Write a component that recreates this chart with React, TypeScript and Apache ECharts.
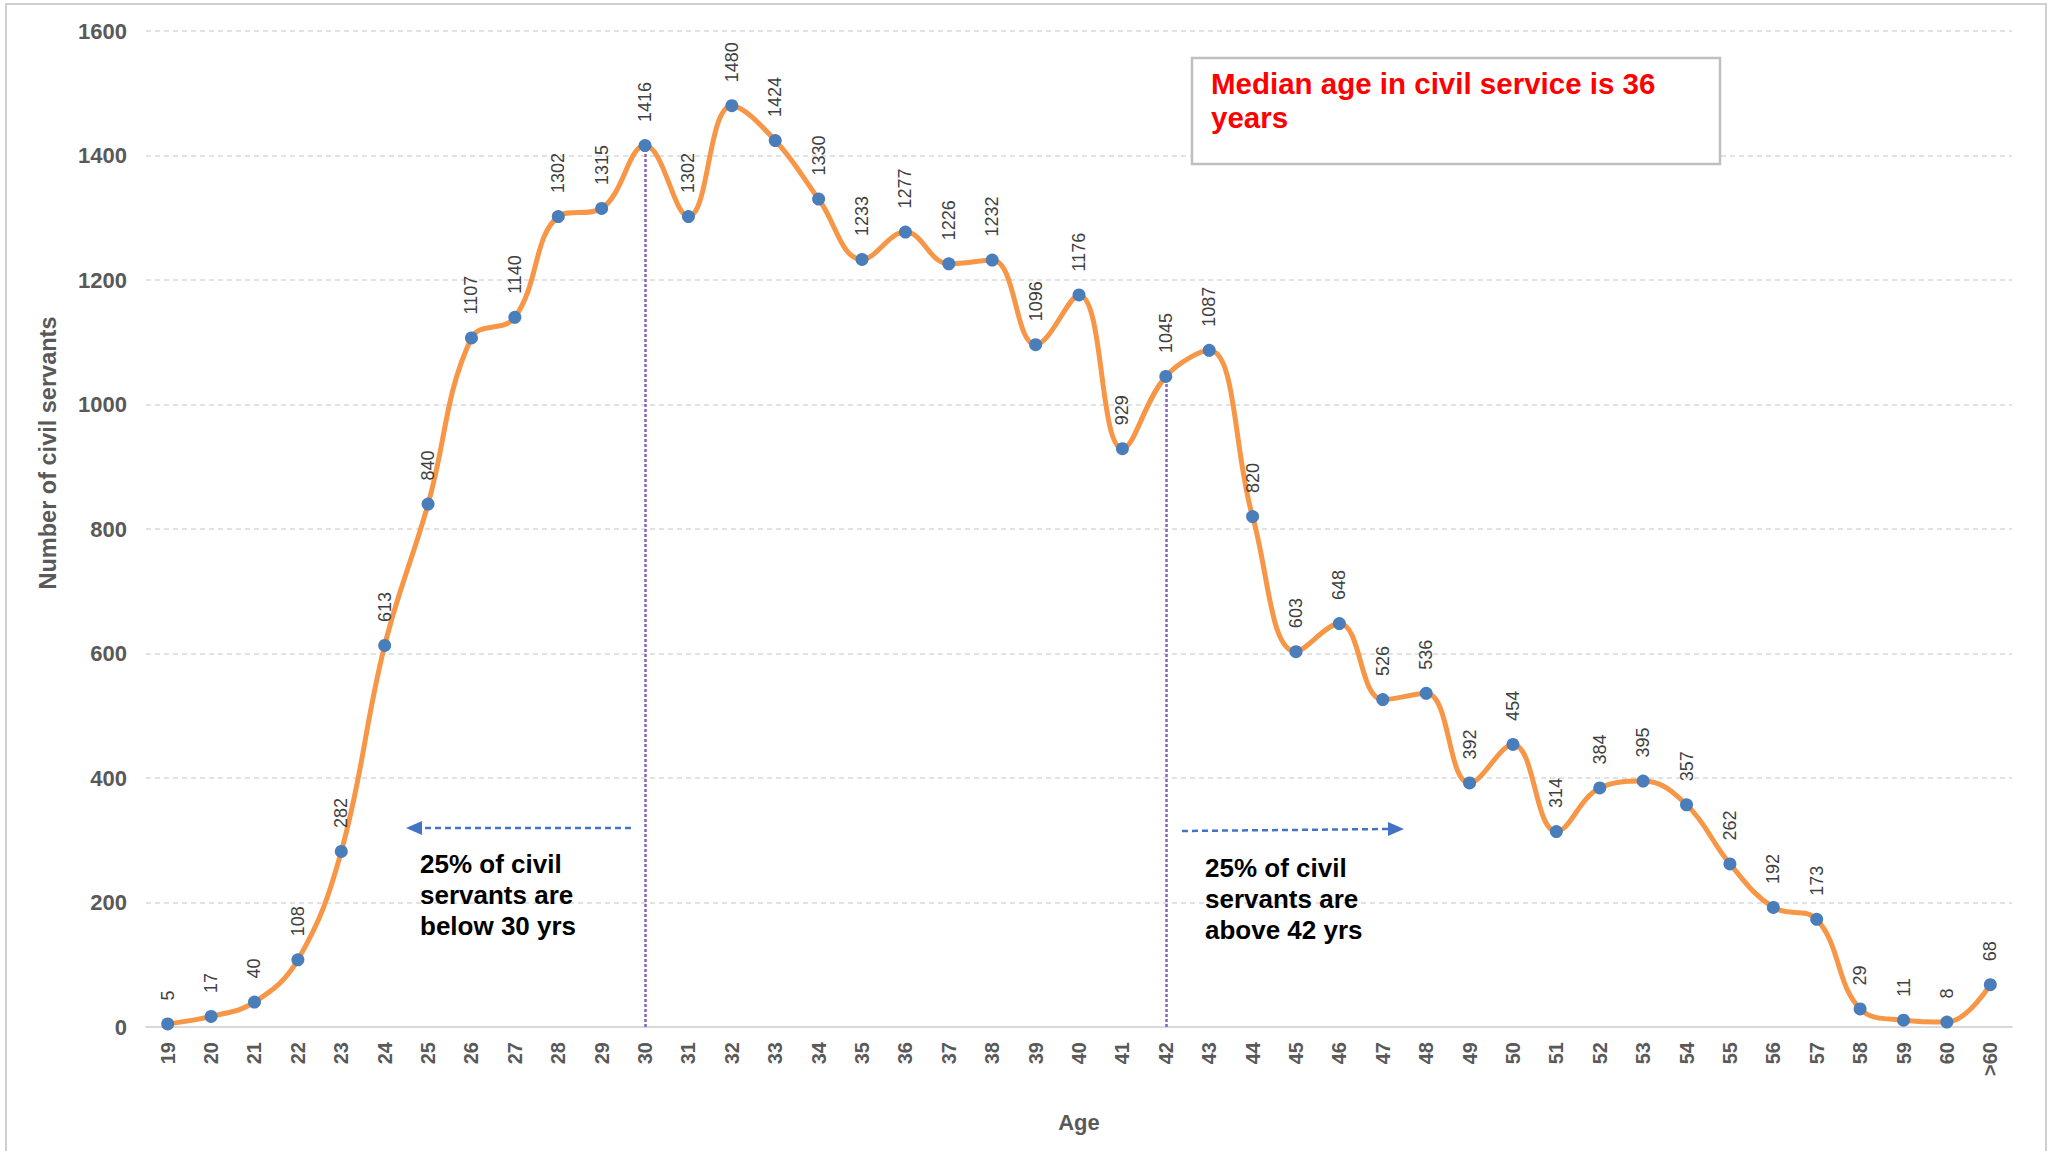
import React, { useEffect, useRef } from "react";
import * as echarts from "echarts";

const ages = [
  "19", "20", "21", "22", "23", "24", "25", "26", "27", "28", "29", "30", "31", "32",
  "33", "34", "35", "36", "37", "38", "39", "40", "41", "42", "43", "44", "45", "46",
  "47", "48", "49", "50", "51", "52", "53", "54", "55", "56", "57", "58", "59", "60", ">60",
];
const counts = [
  5, 17, 40, 108, 282, 613, 840, 1107, 1140, 1302, 1315, 1416, 1302, 1480,
  1424, 1330, 1233, 1277, 1226, 1232, 1096, 1176, 929, 1045, 1087, 820, 603, 648,
  526, 536, 392, 454, 314, 384, 395, 357, 262, 192, 173, 29, 11, 8, 68,
];
const quartileAges = ["30", "42"];
const medianText = "Median age in civil service is 36\nyears";
const belowText = "25% of civil\nservants are\nbelow 30 yrs";
const aboveText = "25% of civil\nservants are\nabove 42 yrs";

const FONT = '"Liberation Sans", Arial, Helvetica, sans-serif';

export default function App() {
  const ref = useRef<HTMLDivElement>(null);
  useEffect(() => {
    document.body.style.margin = "0";
    if (!ref.current) return;
    const chart = echarts.init(ref.current, null, { renderer: "svg" });
    const qLines = quartileAges.map((a) => {
      const v = counts[ages.indexOf(a)];
      return [{ coord: [a, 0] }, { coord: [a, v] }];
    });
    chart.setOption({
      animation: false,
      backgroundColor: "#ffffff",
      grid: { left: 146, right: 48, top: 31, bottom: 124 },
      xAxis: {
        type: "category",
        data: ages,
        boundaryGap: true,
        axisLine: { lineStyle: { color: "#D9D9D9", width: 2 } },
        axisTick: { show: false },
        axisLabel: {
          rotate: 90,
          interval: 0,
          fontFamily: FONT,
          fontWeight: "bold",
          fontSize: 20,
          color: "#595959",
          margin: 15,
        },
        name: "Age",
        nameLocation: "middle",
        nameGap: 84,
        nameTextStyle: { fontFamily: FONT, fontWeight: "bold", fontSize: 22, color: "#595959" },
      },
      yAxis: {
        type: "value",
        min: 0,
        max: 1600,
        interval: 200,
        axisLine: { show: false },
        axisTick: { show: false },
        axisLabel: {
          fontFamily: FONT,
          fontWeight: "bold",
          fontSize: 22,
          color: "#595959",
          margin: 19,
          formatter: (v: number) => String(v),
        },
        splitLine: { lineStyle: { color: "#D9D9D9", type: [5, 4], width: 1.5 } },
      },
      series: [
        {
          type: "line",
          data: counts,
          smooth: 0.4,
          symbol: "circle",
          symbolSize: 13,
          itemStyle: { color: "#4A7EBB" },
          lineStyle: { color: "#F79646", width: 5 },
          z: 3,
          label: {
            show: true,
            position: "top",
            distance: 17,
            rotate: 90,
            align: "left",
            verticalAlign: "middle",
            fontFamily: FONT,
            fontSize: 18,
            color: "#404040",
          },
          markLine: {
            silent: true,
            symbol: ["none", "none"],
            label: { show: false },
            lineStyle: { color: "#8464C4", type: [3, 2], width: 2.5, opacity: 1 },
            data: qLines,
            z: 1,
          },
        },
      ],
      graphic: [
        {
          type: "rect",
          shape: { x: 6, y: 4, width: 2040, height: 1160 },
          style: { fill: "none", stroke: "#D0D0D0", lineWidth: 2 },
          silent: true,
          z: 0,
        },
        {
          type: "text",
          x: 48,
          y: 453,
          rotation: Math.PI / 2,
          style: {
            text: "Number of civil servants",
            fontFamily: FONT,
            fontWeight: "bold",
            fontSize: 23.5,
            fill: "#595959",
            align: "center",
            verticalAlign: "middle",
          },
        },
        {
          type: "rect",
          shape: { x: 1192, y: 58, width: 528, height: 106 },
          style: { fill: "#ffffff", stroke: "#BFBFBF", lineWidth: 2.5 },
          z: 10,
        },
        {
          type: "text",
          x: 1211,
          y: 66,
          z: 11,
          style: {
            text: medianText,
            fontFamily: FONT,
            fontWeight: "bold",
            fontSize: 29.5,
            lineHeight: 34,
            fill: "#FF0000",
          },
        },
        {
          type: "text",
          x: 420,
          y: 848,
          z: 11,
          style: {
            text: belowText,
            fontFamily: FONT,
            fontWeight: "bold",
            fontSize: 26,
            lineHeight: 31,
            fill: "#000000",
          },
        },
        {
          type: "text",
          x: 1205,
          y: 852,
          z: 11,
          style: {
            text: aboveText,
            fontFamily: FONT,
            fontWeight: "bold",
            fontSize: 26,
            lineHeight: 31,
            fill: "#000000",
          },
        },
        {
          type: "line",
          shape: { x1: 631, y1: 828, x2: 420, y2: 828 },
          style: { stroke: "#4472C4", lineWidth: 2.5, lineDash: [6, 4] },
          z: 11,
        },
        {
          type: "polygon",
          shape: { points: [[406, 828], [422, 821], [422, 835]] },
          style: { fill: "#4472C4" },
          z: 11,
        },
        {
          type: "line",
          shape: { x1: 1182, y1: 831, x2: 1390, y2: 829 },
          style: { stroke: "#4472C4", lineWidth: 2.5, lineDash: [6, 4] },
          z: 11,
        },
        {
          type: "polygon",
          shape: { points: [[1404, 829], [1388, 822], [1388, 836]] },
          style: { fill: "#4472C4" },
          z: 11,
        },
      ],
    });
    return () => chart.dispose();
  }, []);
  return (
    <div
      ref={ref}
      style={{ position: "absolute", left: 0, top: 0, width: 2060, height: 1151 }}
    />
  );
}
